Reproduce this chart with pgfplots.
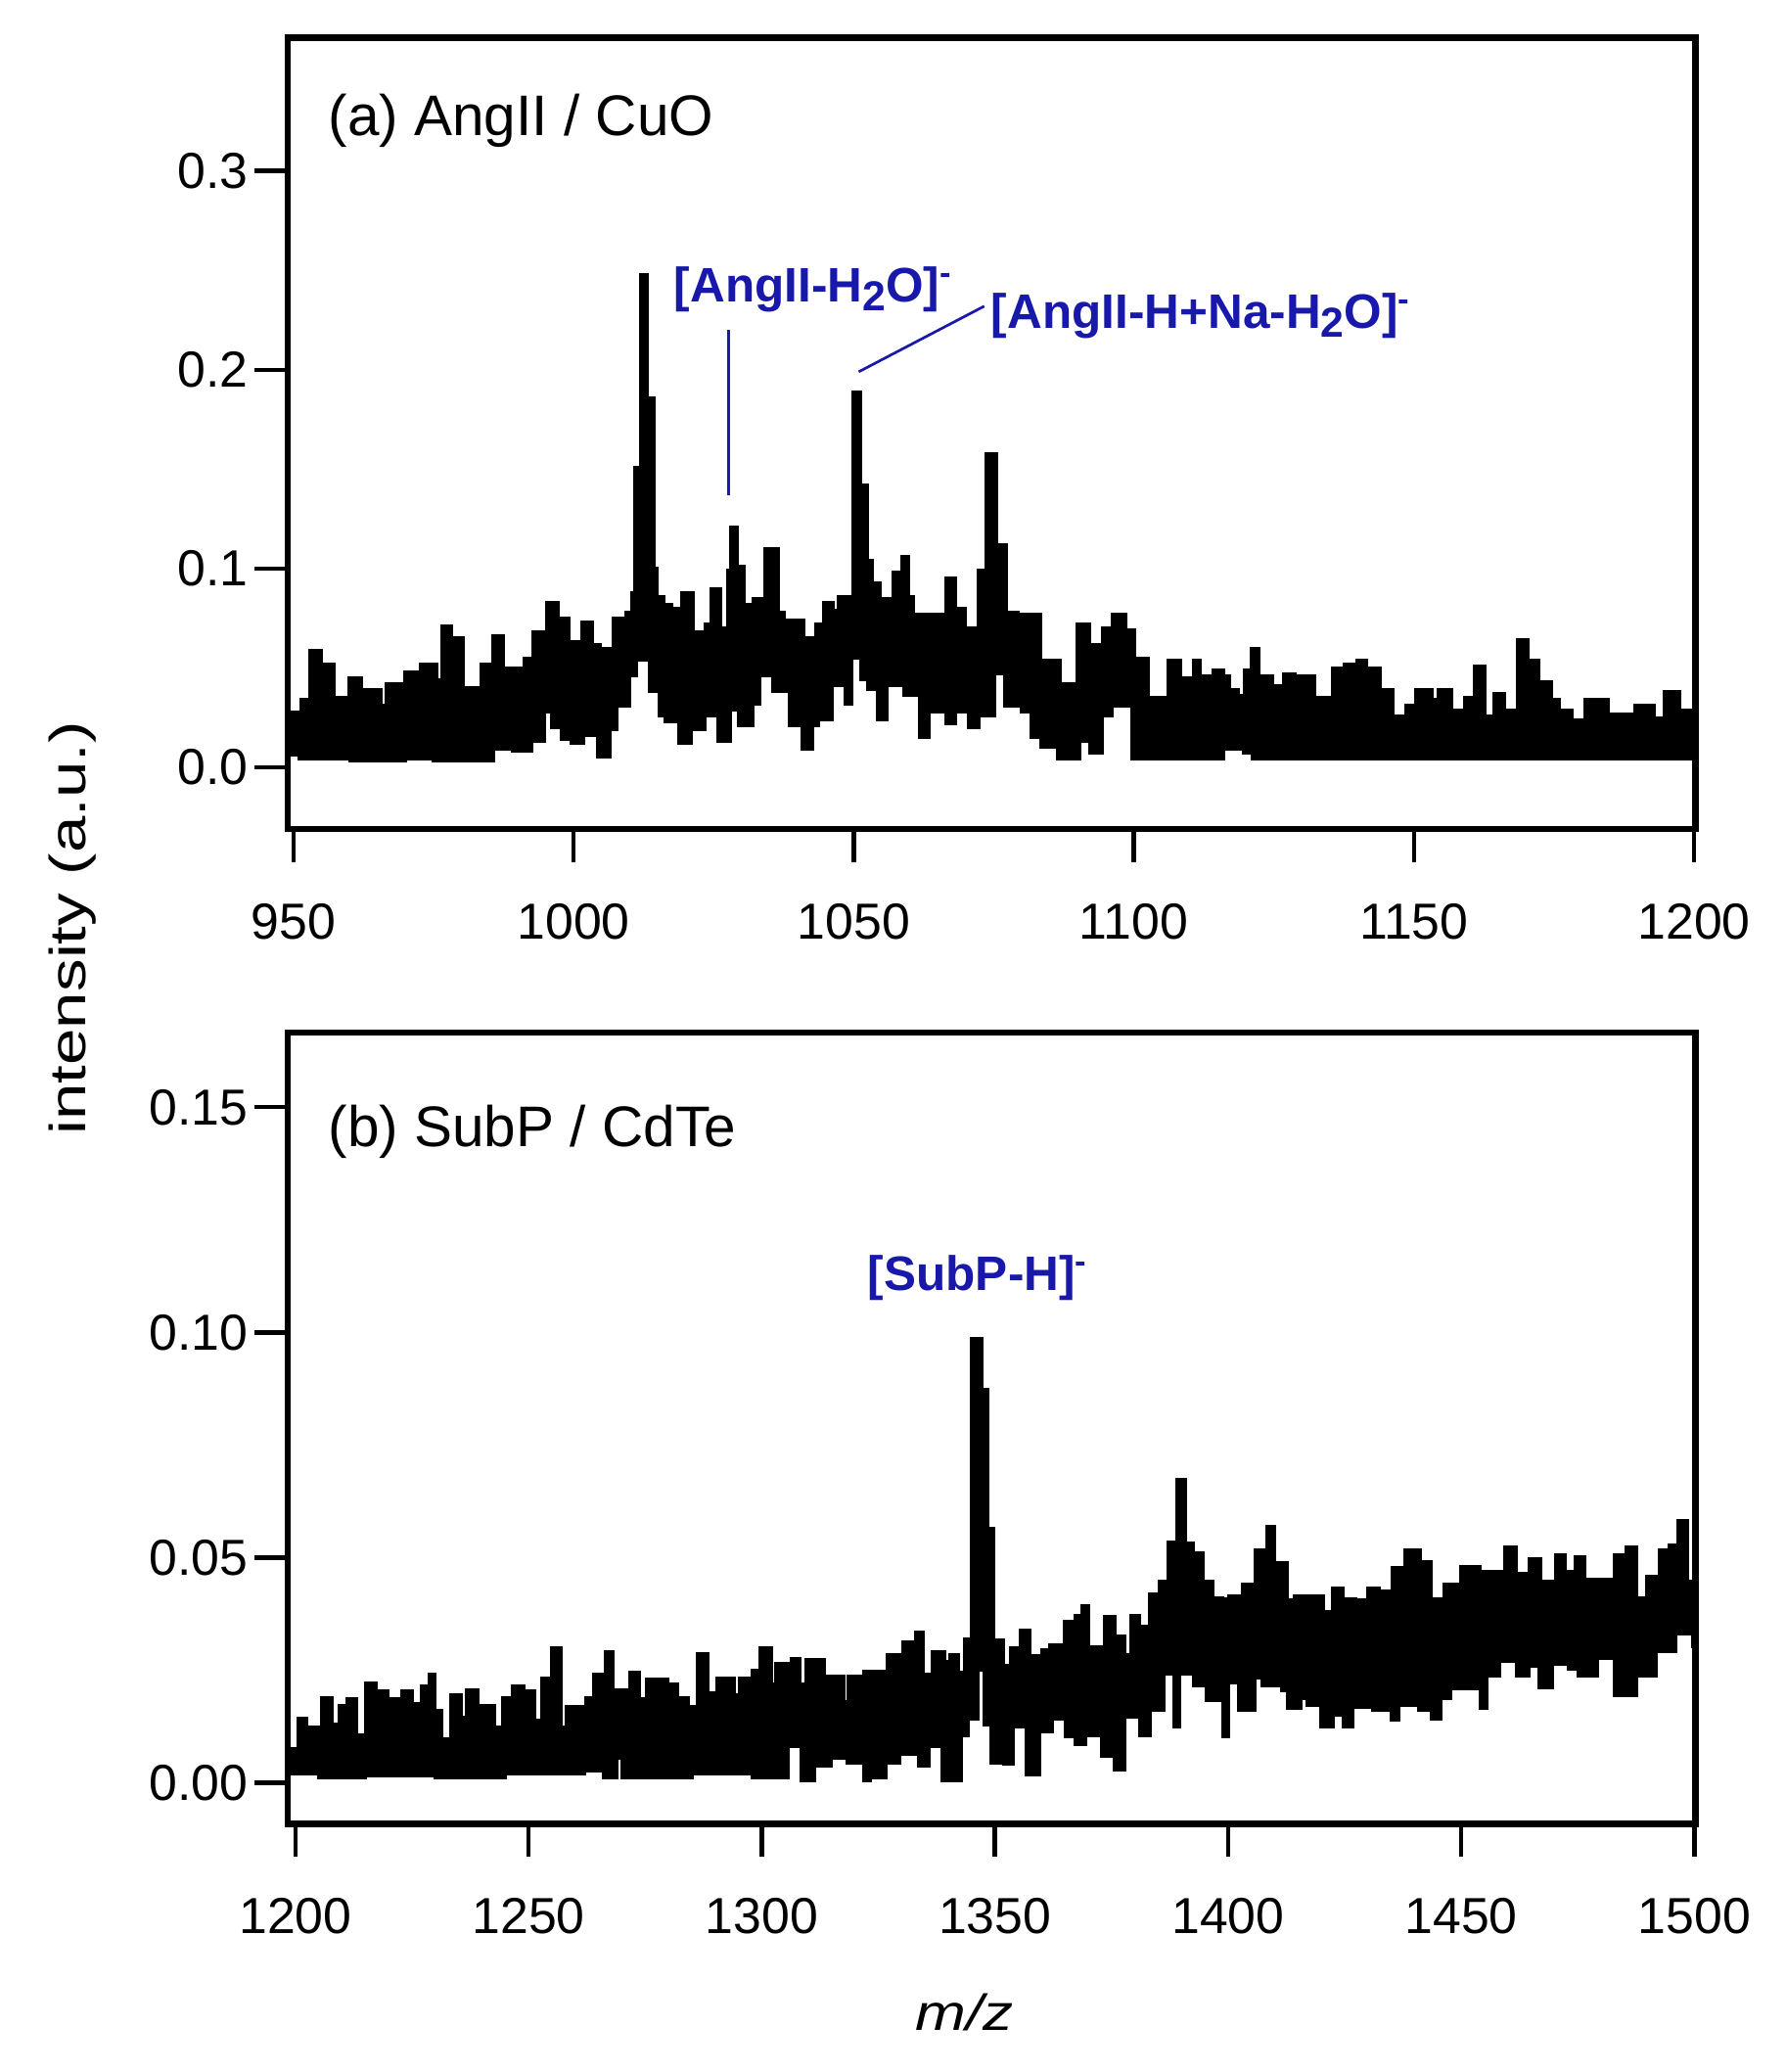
\documentclass[border=0pt]{standalone}
\usepackage{fontspec}
\setmainfont{Liberation Sans}
\usepackage{graphicx}
\usepackage{pgfplots}
\usepackage{pgfplotstable}
\pgfplotsset{compat=1.18}
\definecolor{annot}{RGB}{24,24,170}

% panel (a): upper and lower edge of the noisy trace
\pgfplotstableread{
x y
948.9 0.028
951.4 0.034
952.9 0.059
954.9 0.052
957.3 0.035
959.9 0.045
962.2 0.039
965.7 0.031
966.6 0.042
969.8 0.048
972.7 0.052
975.6 0.044
976.5 0.071
978.2 0.065
980.3 0.040
983.5 0.052
985.5 0.066
987.4 0.050
991.1 0.055
992.8 0.068
995.1 0.083
997.2 0.075
999.2 0.063
1001.5 0.073
1003.3 0.062
1004.7 0.060
1007.1 0.075
1009.4 0.078
1010.3 0.088
1010.9 0.151
1012.0 0.248
1013.2 0.186
1014.4 0.100
1014.9 0.086
1016.1 0.082
1017.6 0.080
1019.3 0.088
1021.3 0.068
1023.4 0.072
1024.5 0.090
1026.3 0.070
1027.5 0.099
1028.0 0.121
1029.2 0.101
1030.4 0.082
1032.1 0.085
1034.1 0.110
1036.5 0.078
1037.6 0.074
1041.1 0.065
1043.2 0.072
1044.6 0.083
1046.3 0.079
1047.2 0.086
1049.9 0.189
1051.3 0.142
1052.5 0.104
1053.4 0.093
1054.8 0.085
1057.1 0.098
1058.6 0.106
1059.8 0.086
1060.6 0.077
1066.5 0.095
1068.2 0.080
1070.0 0.070
1072.3 0.099
1073.7 0.158
1075.5 0.112
1077.2 0.078
1079.3 0.077
1083.3 0.054
1086.8 0.042
1089.8 0.072
1092.1 0.062
1094.4 0.070
1096.2 0.077
1098.5 0.069
1100.2 0.055
1102.6 0.035
1106.1 0.054
1108.4 0.045
1110.7 0.054
1111.9 0.046
1114.2 0.049
1116.0 0.046
1117.1 0.039
1118.6 0.036
1119.8 0.049
1121.0 0.060
1122.4 0.046
1124.7 0.041
1126.7 0.047
1128.8 0.035
1129.4 0.046
1132.3 0.035
1135.5 0.050
1137.5 0.052
1139.9 0.054
1141.6 0.050
1143.9 0.039
1146.3 0.026
1148.6 0.031
1150.3 0.039
1153.2 0.034
1154.4 0.039
1156.7 0.029
1159.1 0.035
1160.8 0.051
1162.6 0.026
1164.3 0.037
1166.1 0.029
1168.4 0.064
1170.4 0.054
1172.2 0.043
1174.5 0.034
1176.0 0.029
1178.3 0.024
1180.6 0.034
1184.7 0.027
1188.8 0.024
1189.4 0.031
1192.9 0.025
1194.6 0.038
1197.5 0.029
1200.2 0.029
}\tophi

\pgfplotstableread{
x y
948.9 0.006
951.0 0.004
960.0 0.003
970.0 0.004
975.0 0.003
985.7 0.009
989.0 0.008
992.5 0.013
994.8 0.028
996.0 0.020
997.8 0.014
999.5 0.012
1001.8 0.016
1004.2 0.005
1006.5 0.019
1007.7 0.031
1010.0 0.046
1011.2 0.054
1013.5 0.038
1015.2 0.026
1016.4 0.023
1018.7 0.012
1021.0 0.019
1023.4 0.026
1025.7 0.013
1028.0 0.029
1029.5 0.021
1032.1 0.032
1033.3 0.046
1035.6 0.038
1038.5 0.021
1040.8 0.009
1042.6 0.021
1043.7 0.024
1046.1 0.041
1048.4 0.032
1049.6 0.055
1051.3 0.044
1052.5 0.039
1054.2 0.024
1056.0 0.041
1058.9 0.036
1061.8 0.015
1063.5 0.028
1066.5 0.022
1068.2 0.028
1070.5 0.020
1072.3 0.026
1075.2 0.047
1077.0 0.031
1079.9 0.028
1081.6 0.015
1083.4 0.010
1086.3 0.004
1090.3 0.013
1092.1 0.007
1094.4 0.026
1096.2 0.031
1099.7 0.004
1116.0 0.009
1119.5 0.007
1121.2 0.004
1200.2 0.004
}\toplo

% panel (b)
\pgfplotstableread{
x y
1198.3 0.0076
1200.6 0.0142
1202.4 0.0124
1205.5 0.0189
1207.9 0.0130
1209.4 0.0171
1211.1 0.0186
1213.2 0.0105
1215.0 0.0222
1217.4 0.0204
1219.9 0.0186
1222.7 0.0204
1225.1 0.0175
1226.9 0.0215
1228.6 0.0240
1230.0 0.0160
1231.4 0.0098
1233.2 0.0196
1235.6 0.0146
1236.7 0.0207
1239.1 0.0171
1242.6 0.0124
1244.4 0.0189
1246.5 0.0215
1249.0 0.0204
1251.4 0.0138
1252.8 0.0233
1254.9 0.0299
1257.0 0.0124
1258.1 0.0168
1262.2 0.0189
1264.0 0.0240
1266.4 0.0291
1268.2 0.0207
1271.0 0.0160
1271.7 0.0244
1273.8 0.0186
1275.2 0.0230
1279.8 0.0218
1281.9 0.0189
1284.3 0.0168
1286.1 0.0287
1288.5 0.0200
1290.3 0.0233
1294.1 0.0196
1295.2 0.0233
1298.0 0.0250
1299.7 0.0300
1302.2 0.0220
1302.9 0.0264
1305.7 0.0200
1306.4 0.0276
1308.1 0.0220
1309.5 0.0273
1313.4 0.0237
1317.6 0.0180
1318.6 0.0237
1321.8 0.0248
1327.0 0.0284
1330.2 0.0313
1332.3 0.0250
1333.0 0.0335
1334.7 0.0240
1336.5 0.0291
1339.3 0.0269
1340.3 0.0284
1342.1 0.0244
1343.5 0.0320
1344.9 0.0986
1347.3 0.0873
1348.4 0.0564
1349.8 0.0316
1351.9 0.0260
1353.3 0.0300
1355.4 0.0338
1357.5 0.0282
1360.0 0.0296
1361.7 0.0307
1364.8 0.0358
1367.3 0.0372
1368.7 0.0393
1370.1 0.0302
1373.6 0.0368
1375.7 0.0325
1377.8 0.0284
1379.2 0.0372
1381.0 0.0347
1383.1 0.0420
1385.2 0.0447
1387.2 0.0535
1389.0 0.0674
1390.8 0.0532
1392.5 0.0510
1394.6 0.0447
1396.7 0.0410
1398.8 0.0407
1400.2 0.0414
1403.0 0.0440
1405.8 0.0517
1408.3 0.0568
1410.0 0.0488
1412.8 0.0405
1414.2 0.0414
1420.5 0.0380
1422.3 0.0433
1424.7 0.0407
1427.5 0.0405
1430.0 0.0433
1432.4 0.0425
1435.2 0.0477
1438.0 0.0517
1441.2 0.0491
1443.6 0.0407
1446.4 0.0440
1449.9 0.0480
1454.1 0.0470
1459.4 0.0524
1461.8 0.0465
1464.6 0.0498
1467.1 0.0447
1470.2 0.0506
1472.3 0.0470
1474.4 0.0502
1476.5 0.0452
1482.8 0.0506
1485.3 0.0524
1487.7 0.0411
1489.8 0.0458
1492.6 0.0517
1494.7 0.0528
1496.5 0.0583
1498.6 0.0447
1500.2 0.0447
}\bothi

\pgfplotstableread{
x y
1198.3 0.0020
1205.0 0.0010
1215.0 0.0015
1230.0 0.0010
1245.0 0.0020
1262.0 0.0026
1266.0 0.0010
1269.0 0.0054
1270.0 0.0010
1285.0 0.0020
1298.0 0.0011
1305.7 0.0080
1308.5 0.0004
1311.3 0.0036
1314.8 0.0055
1318.3 0.0044
1321.8 0.0004
1323.2 0.0011
1326.7 0.0044
1329.5 0.0062
1333.7 0.0036
1335.8 0.0080
1338.6 0.0004
1342.8 0.0105
1344.2 0.0142
1346.3 0.0250
1347.7 0.0128
1349.1 0.0044
1351.9 0.0040
1354.0 0.0124
1356.8 0.0018
1359.6 0.0113
1362.4 0.0142
1365.2 0.0102
1367.3 0.0084
1369.4 0.0105
1372.9 0.0058
1375.7 0.0029
1377.8 0.0145
1381.0 0.0105
1383.4 0.0160
1386.2 0.0240
1388.3 0.0124
1389.7 0.0240
1392.5 0.0216
1395.3 0.0183
1398.8 0.0102
1400.2 0.0222
1402.3 0.0160
1405.8 0.0233
1407.2 0.0214
1411.4 0.0203
1412.8 0.0164
1415.6 0.0186
1417.0 0.0171
1419.8 0.0124
1422.6 0.0149
1424.7 0.0124
1426.8 0.0168
1431.0 0.0160
1434.9 0.0138
1436.6 0.0171
1440.8 0.0160
1443.6 0.0142
1445.7 0.0186
1447.8 0.0208
1454.1 0.0164
1455.5 0.0236
1458.3 0.0269
1461.8 0.0236
1464.6 0.0258
1466.7 0.0211
1469.5 0.0262
1473.0 0.0251
1475.1 0.0237
1479.3 0.0276
1482.8 0.0194
1487.7 0.0236
1491.9 0.0291
1496.1 0.0331
1499.6 0.0302
1500.2 0.0302
}\botlo

\pgfplotsset{
  msaxis/.style={
    scale only axis,
    width=319.6pt, height=179.6pt,
    axis on top,
    axis line style={line width=1.5pt},
    tick style={black, line width=1pt},
    tick align=outside,
    major tick length=7.5pt,
    xtick pos=bottom, ytick pos=left,
    minor tick num=0,
    scaled x ticks=false, scaled y ticks=false,
    tick label style={font=\fontsize{11.5}{13}\selectfont},
    xticklabel style={yshift=-6pt},
    yticklabel style={xshift=2pt},
    /pgf/number format/assume math mode=true,
    /pgf/number format/1000 sep={},
  },
  hifill/.style={const plot, draw=none, fill=black},
  lofill/.style={const plot, draw=none, fill=white},
  edge/.style={const plot, black, line width=0.7pt},
}

\begin{document}
\begin{tikzpicture}
\useasboundingbox (-65.3pt,-56.4pt) rectangle (340.2pt,414pt);

\begin{axis}[msaxis,
  at={(0pt,225.8pt)}, anchor=south west,
  xmin=948.95, xmax=1200.2,
  ymin=-0.031, ymax=0.367,
  xtick={950,1000,1050,1100,1150,1200},
  ytick={0,0.1,0.2,0.3},
  yticklabel style={/pgf/number format/fixed, /pgf/number format/fixed zerofill, /pgf/number format/precision=1},
]
  % black from the upper edge down, white from the lower edge down to the frame, then both edges
  \addplot[hifill] table {\tophi} \closedcycle;
  \addplot[lofill] table {\toplo} -- (axis cs:1200.2,-0.031) -- (axis cs:948.9,-0.031) -- cycle;
  \addplot[edge] table {\tophi};
  \addplot[edge] table {\toplo};

  \node[anchor=base west, inner sep=0pt, xshift=9.1pt, yshift=-22.2pt,
        font=\fontsize{13}{15}\selectfont] at (rel axis cs:0,1) {(a) AngII / CuO};

  \draw[annot, line width=0.6pt] (axis cs:1027.7,0.137) -- (axis cs:1027.7,0.220);
  \draw[annot, line width=0.6pt] (axis cs:1050.9,0.199) -- (axis cs:1073.3,0.232);
  \node[anchor=base west, inner sep=0pt, text=annot, font=\fontsize{11}{13}\selectfont\bfseries]
    at (axis cs:1017.8,0.234) {[AngII-H\raisebox{-0.35ex}{\fontsize{9.5}{10}\selectfont 2}O]\textsuperscript{-}};
  \node[anchor=base west, inner sep=0pt, text=annot, font=\fontsize{11}{13}\selectfont\bfseries]
    at (axis cs:1074.4,0.221) {[AngII-H+Na-H\raisebox{-0.35ex}{\fontsize{9.5}{10}\selectfont 2}O]\textsuperscript{-}};
\end{axis}

\begin{axis}[msaxis,
  at={(0pt,0pt)}, anchor=south west,
  xmin=1198.3, xmax=1500.2,
  ymin=-0.0091, ymax=0.1666,
  xtick={1200,1250,1300,1350,1400,1450,1500},
  ytick={0,0.05,0.10,0.15},
  yticklabel style={/pgf/number format/fixed, /pgf/number format/fixed zerofill, /pgf/number format/precision=2},
]
  \addplot[hifill] table {\bothi} \closedcycle;
  \addplot[lofill] table {\botlo} -- (axis cs:1500.2,-0.0091) -- (axis cs:1198.3,-0.0091) -- cycle;
  \addplot[edge] table {\bothi};
  \addplot[edge] table {\botlo};

  \node[anchor=base west, inner sep=0pt, xshift=9.1pt, yshift=-26pt,
        font=\fontsize{13}{15}\selectfont] at (rel axis cs:0,1) {(b) SubP / CdTe};

  \node[anchor=base west, inner sep=0pt, text=annot, font=\fontsize{11}{13}\selectfont\bfseries]
    at (axis cs:1322.6,0.1093) {[SubP-H]\textsuperscript{-}};
\end{axis}

\node[anchor=base, font=\fontsize{11.5}{13}\selectfont] at (153.7pt,-47pt)
  {\scalebox{1.2}[1]{\textit{m/z}}};
\node[rotate=90, font=\fontsize{11.5}{13}\selectfont] at (-48.9pt,203.3pt)
  {\scalebox{1.3}[1]{intensity (a.u.)}};
\end{tikzpicture}
\end{document}
